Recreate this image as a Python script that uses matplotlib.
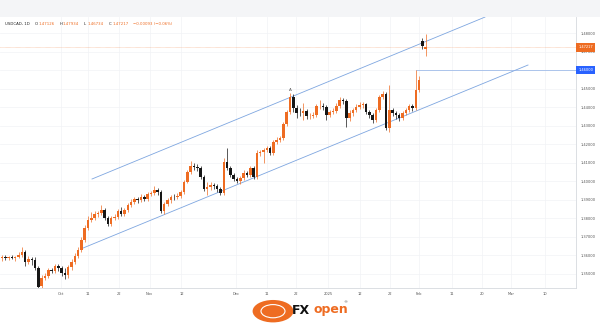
import matplotlib
matplotlib.use('Agg')
import matplotlib.pyplot as plt
import matplotlib.transforms as mtransforms
from matplotlib.patches import Rectangle, Circle

# USDCAD daily candles, mid Sep 2024 .. 3 Feb 2025
opens = [1.3584, 1.3589, 1.3584, 1.3589, 1.3584, 1.3589, 1.3600, 1.3616, 1.3562, 1.3578,
         1.3573, 1.3530, 1.3432, 1.3476, 1.3486, 1.3519, 1.3514, 1.3541, 1.3530, 1.3503,
         1.3492, 1.3535, 1.3562, 1.3595, 1.3627, 1.3681, 1.3746, 1.3789, 1.3800, 1.3822,
         1.3827, 1.3843, 1.3800, 1.3768, 1.3800, 1.3805, 1.3838, 1.3822, 1.3843, 1.3870,
         1.3886, 1.3903, 1.3897, 1.3914, 1.3903, 1.3930, 1.3935, 1.3951, 1.3941, 1.3838,
         1.3876, 1.3897, 1.3914, 1.3912, 1.3919, 1.3941, 1.3995, 1.4049, 1.4081, 1.4076,
         1.4070, 1.4022, 1.3957, 1.3968, 1.3978, 1.3973, 1.3957, 1.3935, 1.4103, 1.4070,
         1.4032, 1.4011, 1.4000, 1.4016, 1.4043, 1.4032, 1.4070, 1.4022, 1.4151, 1.4157,
         1.4168, 1.4178, 1.4151, 1.4211, 1.4222, 1.4232, 1.4308, 1.4373, 1.4454, 1.4395,
         1.4368, 1.4365, 1.4378, 1.4351, 1.4354, 1.4357, 1.4405, 1.4408, 1.4400, 1.4357,
         1.4373, 1.4378, 1.4405, 1.4438, 1.4432, 1.4341, 1.4368, 1.4384, 1.4400, 1.4411,
         1.4414, 1.4373, 1.4357, 1.4330, 1.4384, 1.4454, 1.4470, 1.4286, 1.4384, 1.4368,
         1.4357, 1.4341, 1.4368, 1.4384, 1.4405, 1.4395, 1.4492, 1.4755, 1.47126]
closes = [1.3589, 1.3584, 1.3589, 1.3584, 1.3589, 1.3600, 1.3616, 1.3562, 1.3578, 1.3573,
          1.3530, 1.3427, 1.3476, 1.3486, 1.3519, 1.3514, 1.3541, 1.3530, 1.3503, 1.3492,
          1.3535, 1.3562, 1.3595, 1.3627, 1.3681, 1.3746, 1.3789, 1.3800, 1.3822, 1.3827,
          1.3843, 1.3800, 1.3768, 1.3800, 1.3805, 1.3838, 1.3822, 1.3843, 1.3870, 1.3886,
          1.3903, 1.3897, 1.3914, 1.3903, 1.3930, 1.3935, 1.3951, 1.3941, 1.3838, 1.3876,
          1.3897, 1.3914, 1.3912, 1.3919, 1.3941, 1.3995, 1.4049, 1.4081, 1.4076, 1.4070,
          1.4022, 1.3957, 1.3968, 1.3978, 1.3973, 1.3957, 1.3935, 1.4103, 1.4070, 1.4032,
          1.4011, 1.4000, 1.4016, 1.4043, 1.4032, 1.4070, 1.4022, 1.4151, 1.4157, 1.4168,
          1.4178, 1.4151, 1.4211, 1.4222, 1.4232, 1.4308, 1.4373, 1.4454, 1.4395, 1.4368,
          1.4365, 1.4378, 1.4351, 1.4354, 1.4357, 1.4405, 1.4408, 1.4400, 1.4357, 1.4373,
          1.4378, 1.4405, 1.4438, 1.4432, 1.4341, 1.4368, 1.4384, 1.4400, 1.4411, 1.4414,
          1.4373, 1.4357, 1.4330, 1.4384, 1.4454, 1.4470, 1.4286, 1.4384, 1.4368, 1.4357,
          1.4341, 1.4368, 1.4384, 1.4405, 1.4395, 1.4492, 1.4546, 1.4731, 1.47217]
highs = [1.3600, 1.3600, 1.3595, 1.3600, 1.3595, 1.3616, 1.3643, 1.3627, 1.3595, 1.3589,
         1.3589, 1.3541, 1.3492, 1.3503, 1.3530, 1.3530, 1.3551, 1.3551, 1.3541, 1.3530,
         1.3546, 1.3578, 1.3611, 1.3643, 1.3697, 1.3762, 1.3811, 1.3832, 1.3838, 1.3838,
         1.3870, 1.3854, 1.3811, 1.3811, 1.3822, 1.3849, 1.3859, 1.3854, 1.3881, 1.3903,
         1.3914, 1.3914, 1.3930, 1.3924, 1.3941, 1.3946, 1.3973, 1.3962, 1.3951, 1.3886,
         1.3908, 1.3924, 1.3930, 1.3935, 1.3951, 1.4005, 1.4059, 1.4108, 1.4097, 1.4092,
         1.4081, 1.4032, 1.3995, 1.3995, 1.3989, 1.3984, 1.3968, 1.4124, 1.4178, 1.4081,
         1.4043, 1.4022, 1.4027, 1.4059, 1.4054, 1.4081, 1.4081, 1.4168, 1.4168, 1.4178,
         1.4189, 1.4189, 1.4222, 1.4238, 1.4243, 1.4319, 1.4384, 1.4476, 1.4470, 1.4411,
         1.4395, 1.4422, 1.4389, 1.4368, 1.4373, 1.4416, 1.4438, 1.4422, 1.4411, 1.4384,
         1.4395, 1.4422, 1.4454, 1.4449, 1.4443, 1.4384, 1.4395, 1.4416, 1.4427, 1.4427,
         1.4422, 1.4384, 1.4368, 1.4395, 1.4465, 1.4486, 1.4481, 1.4519, 1.4395, 1.4378,
         1.4368, 1.4378, 1.4395, 1.4416, 1.4416, 1.4600, 1.4568, 1.4773, 1.47934]
lows = [1.3568, 1.3573, 1.3573, 1.3578, 1.3568, 1.3584, 1.3589, 1.3541, 1.3551, 1.3546,
        1.3519, 1.3416, 1.3416, 1.3465, 1.3476, 1.3503, 1.3503, 1.3514, 1.3486, 1.3470,
        1.3476, 1.3519, 1.3551, 1.3584, 1.3616, 1.3670, 1.3735, 1.3778, 1.3789, 1.3805,
        1.3816, 1.3789, 1.3757, 1.3757, 1.3789, 1.3795, 1.3811, 1.3811, 1.3832, 1.3859,
        1.3876, 1.3881, 1.3886, 1.3892, 1.3892, 1.3919, 1.3924, 1.3924, 1.3827, 1.3822,
        1.3865, 1.3881, 1.3897, 1.3903, 1.3908, 1.3930, 1.3989, 1.4038, 1.4059, 1.4054,
        1.4011, 1.3946, 1.3924, 1.3951, 1.3957, 1.3941, 1.3924, 1.3924, 1.4059, 1.4022,
        1.4000, 1.3989, 1.3984, 1.4005, 1.4022, 1.4022, 1.4011, 1.4011, 1.4135, 1.4097,
        1.4157, 1.4141, 1.4141, 1.4200, 1.4211, 1.4222, 1.4297, 1.4362, 1.4373, 1.4341,
        1.4351, 1.4330, 1.4335, 1.4335, 1.4341, 1.4346, 1.4389, 1.4384, 1.4330, 1.4346,
        1.4362, 1.4368, 1.4395, 1.4416, 1.4292, 1.4324, 1.4351, 1.4373, 1.4389, 1.4395,
        1.4362, 1.4341, 1.4314, 1.4319, 1.4373, 1.4443, 1.4276, 1.4265, 1.4351, 1.4335,
        1.4324, 1.4330, 1.4357, 1.4373, 1.4378, 1.4384, 1.4481, 1.4712, 1.46734]

# channel lines: (bar index, price) at each end
upper_channel = [(27.2, 1.4011), (145.9, 1.4886)]
lower_channel = [(24.5, 1.3638), (158.9, 1.4627)]
level_line = 1.46000
level_start = 125
last_price = 1.47217

date_ticks = [17.8, 25.9, 35.2, 44.6, 54.2, 70.8, 80.1, 88.9, 98.5, 108.1, 117.2,
              125.9, 135.8, 144.9, 153.9, 163.9]
date_labels = ['Oct', '11', '22', 'Nov', '12', 'Dec', '11', '22', '2025', '12', '22',
               'Feb', '11', '20', 'Mar', '10']
price_ticks = [1.35, 1.36, 1.37, 1.38, 1.39, 1.40, 1.41, 1.42, 1.43, 1.44, 1.45,
               1.46, 1.47, 1.48]

UP = '#ee6c22'
DOWN = '#161616'
CHAN = '#7ea6e0'
GRID = '#f1f3f6'

fig = plt.figure(figsize=(6, 3.3), dpi=100)
fig.patch.set_facecolor('white')
# grey strip at the very top
fig.patches.append(Rectangle((0, 0.948), 1, 0.052, transform=fig.transFigure,
                             facecolor='#f4f5f7', edgecolor='none', zorder=0))

ax = fig.add_axes([0, 0.1273, 0.96, 0.8212])
ax.set_xlim(-0.6, 173.4)
ax.set_ylim(1.3422, 1.48865)

for x in date_ticks:
    ax.axvline(x, color=GRID, lw=0.5, zorder=0)
for y in price_ticks:
    ax.axhline(y, color=GRID, lw=0.5, zorder=0)

# candles
for i in range(len(closes)):
    o, c, h, l = opens[i], closes[i], highs[i], lows[i]
    col = UP if c >= o else DOWN
    ax.plot([i, i], [l, h], color=col, lw=0.5, zorder=3, solid_capstyle='butt')
    bot = min(o, c)
    hgt = max(abs(c - o), 0.00028)
    ax.add_patch(Rectangle((i - 0.38, bot), 0.76, hgt, facecolor=col,
                           edgecolor='none', zorder=4))

# channel
ax.plot([p[0] for p in upper_channel], [p[1] for p in upper_channel], color=CHAN, lw=0.6, zorder=2)
ax.plot([p[0] for p in lower_channel], [p[1] for p in lower_channel], color=CHAN, lw=0.6, zorder=2)

# horizontal level and last price line
ax.plot([level_start, 173.4], [level_line, level_line], color='#8fb0e6', lw=0.5, zorder=2)
ax.axhline(last_price, color=UP, lw=0.4, ls=(0, (1, 1)), alpha=0.6, zorder=1)

ax.text(87, highs[87] + 0.0006, 'A', fontsize=3, color='#555555', ha='center', va='bottom')

# axes styling; the 1.46000 label sits under the blue tag
ax.yaxis.tick_right()
ax.set_yticks(price_ticks)
ax.set_yticklabels(['' if p == level_line else f'{p:.5f}' for p in price_ticks])
ax.set_xticks(date_ticks)
ax.set_xticklabels(date_labels)
ax.tick_params(axis='y', length=0, pad=3, labelsize=2.6, labelcolor='#555555')
ax.tick_params(axis='x', length=0, pad=3, labelsize=2.6, labelcolor='#555555')
for s in ['top', 'left']:
    ax.spines[s].set_visible(False)
ax.spines['right'].set_color('#d6d9de')
ax.spines['bottom'].set_color('#d6d9de')
ax.spines['right'].set_linewidth(0.6)
ax.spines['bottom'].set_linewidth(0.6)

# price tags on the axis
tr = mtransforms.blended_transform_factory(ax.transAxes, ax.transData)
ax.text(1.004, last_price, f'{last_price:.5f}', transform=tr, fontsize=2.6, color='white',
        va='center', ha='left', zorder=10, clip_on=False,
        bbox=dict(boxstyle='square,pad=0.6', facecolor=UP, edgecolor='none'))
ax.text(1.004, level_line, f'{level_line:.5f}', transform=tr, fontsize=2.6, color='white',
        va='center', ha='left', zorder=10, clip_on=False,
        bbox=dict(boxstyle='square,pad=0.6', facecolor='#2962ff', edgecolor='none'))

# header
fig.text(0.009, 0.928, 'USDCAD, 1D', fontsize=2.8, color='#222222', va='center')
hdr = [('O', '1.47126'), ('H', '1.47934'), ('L', '1.46734'), ('C', '1.47217')]
x0 = 0.058
for lab, val in hdr:
    fig.text(x0, 0.928, lab, fontsize=2.8, color='#222222', va='center')
    fig.text(x0 + 0.006, 0.928, val, fontsize=2.8, color=UP, va='center')
    x0 += 0.041
fig.text(x0, 0.928, '\u22120.00093 (\u22120.06%)', fontsize=2.8, color=UP, va='center')

# logo
fig.patches.append(Circle((0.455, 0.057), 0.034, transform=fig.transFigure,
                          facecolor=UP, edgecolor='none'))
fig.patches.append(Circle((0.455, 0.057), 0.020, transform=fig.transFigure,
                          facecolor='none', edgecolor='white', lw=0.8))
fig.text(0.486, 0.050, 'FX', fontsize=9, fontweight='bold', color='#111111', va='baseline')
fig.text(0.523, 0.050, 'open', fontsize=9, fontweight='bold', color=UP, va='baseline')
fig.text(0.572, 0.082, '\u00ae', fontsize=3, color='#555555')

fig.savefig('out.png', dpi=100)
